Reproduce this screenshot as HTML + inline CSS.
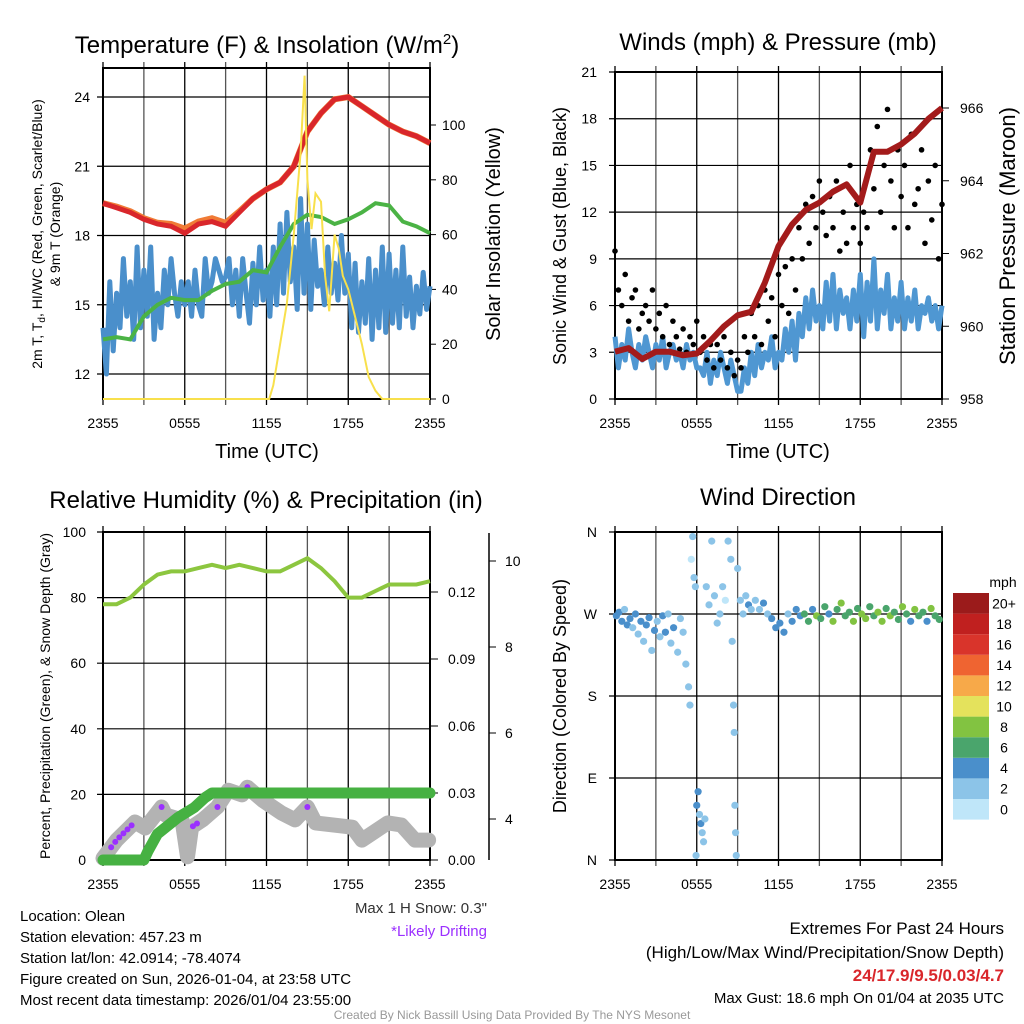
<!DOCTYPE html>
<html><head><meta charset="utf-8"><style>
html,body{margin:0;padding:0;background:#fff;}
svg{display:block;font-family:"Liberation Sans",Arial,sans-serif;}
</style></head><body>
<svg id="c" width="1024" height="1024" viewBox="0 0 1024 1024" xmlns="http://www.w3.org/2000/svg"></svg>
<script>
// ---------- DATA ----------
const hoursHourly = [0,1,2,3,4,5,6,7,8,9,10,11,12,13,14,15,16,17,18,19,20,21,22,23,24];
const xTickLabels = ["2355","0555","1155","1755","2355"];
const tempF = [19.4,19.2,19.0,18.7,18.5,18.4,18.1,18.5,18.6,18.4,19.0,19.6,20.0,20.3,21.0,22.5,23.3,23.9,24.0,23.6,23.2,22.8,22.5,22.3,22.0];
const temp9mF = [19.4,19.25,19.05,18.75,18.55,18.5,18.3,18.6,18.75,18.55,19.05,19.6,20.0,20.3,21.0,22.5,23.3,23.9,24.0,23.6,23.2,22.8,22.5,22.3,22.0];
const dewF = [13.5,13.6,13.5,14.5,15.0,15.3,15.2,15.2,15.6,15.9,16.0,16.5,16.4,17.5,18.5,18.9,18.8,18.5,18.7,19.0,19.4,19.3,18.6,18.4,18.1];
const windChillF = [14,12,16,13,15.5,14,17,14.5,16,13.5,17.5,14,16.5,
 14.5,17.5,13.5,15.5,14,16.5,15,17,15.5,14.5,16,15,
 16,14.5,16.5,15,14.5,17,15.5,16,17,16.5,16,16.2,
 17,15,16.5,14.5,17,15.5,14.2,16.8,15,17.5,15.2,16.5,
 14.5,17.5,15,18.5,15.5,19,16,17.5,14.8,19.6,15.5,18.5,
 14.8,17.8,15.8,16.5,15,17.5,15.5,16.8,15.2,18,15.5,17.2,
 14,16.8,13.8,16,14.2,17,13.5,16.5,14,17.5,13.8,17.2,
 14.2,16.5,14,17.5,14.5,16.2,14,15.8,14.6,16.4,14.8,15.8];
const solarHours = [0,12.2,12.5,13,13.5,14,14.5,14.8,15.0,15.3,15.6,16,16.3,16.6,17,17.3,17.6,18,18.5,19,19.5,20,20.5,24];
const solarWm2 = [0,0,5,20,35,60,90,118,80,62,75,72,45,32,60,55,45,40,30,20,8,3,0,0];
const windMph = [4,2,3.5,2.5,4.5,3,2,3.5,2.5,4,3,2,3.5,
 2.5,4,2,3,3.5,2.5,3,2,3.5,2.5,3,2,
 2,1.5,3,1,2.5,1.5,3,2,1,2.5,1.5,0.5,
 0.5,2,1,3,1.5,3.5,2,3,2.5,4,2,3,
 2.5,4.5,3,5,2.5,5.5,4,6.5,4.5,7,5,6,
 4.5,7.5,5,8,4.5,7,5.5,6.5,4.5,7,5,8,
 4,7.5,5,9,4.5,7,5.5,8,4.5,6.5,5,7.5,
 4.5,6.5,5,7,4.5,6,5.5,6.5,5,6,4.5,6];
const gustMph = [9.5,7,6,8,5,6.5,7,4.5,5.5,6,5,7,4.5,
 5.5,4,6,3.5,5,4,3.2,4.5,3,4,3.5,5,
 3,4,2.5,3.5,2,3.5,2.5,4,2,3,1.5,2.5,
 2,4,3,5.5,4,6,3.5,7,5,6.5,4,8,
 6,8.5,5.5,9,7,11,9,12.5,10,13,11,14,
 12,10.5,13,11,14,9.5,12,10,15,11,12.5,10,
 12,11,16,13.5,17.5,12,15,18.6,14,11,16,13,
 15,11,17,12.5,13.5,16,10,14,11.5,15,9,12.5];
const pressureMb = [959.3,959.4,959.1,959.3,959.3,959.2,959.25,959.6,960.0,960.3,960.4,961.2,962.2,962.8,963.2,963.4,963.7,963.9,963.4,964.8,964.8,965.0,965.3,965.7,966.0];
const rhPct = [78,78,80,84,87,88,88,89,90,89,90,89,88,88,90,92,89,85,80,80,82,84,84,84,85];
const precipHours = [0,3.0,3.3,4.0,5.5,6.7,7.5,8.0,24];
const precipIn = [0,0,0.004,0.0117,0.019,0.0235,0.028,0.03,0.03];
const snowHours = [0,1.0,2.35,3.1,4.3,4.6,5.8,6.2,6.5,7.3,8.4,9.2,10.2,10.6,11.7,13.1,14.1,15.0,15.6,18.3,19.0,20.9,21.9,22.9,23.9];
const snowDepthIn = [3.09,3.51,3.93,3.79,4.28,4.09,3.98,3.12,3.81,3.98,4.28,4.67,4.56,4.74,4.44,4.14,3.98,4.28,3.91,3.81,3.51,3.91,3.86,3.51,3.51];
const driftHours = [0.6,0.9,1.2,1.5,1.8,2.1,4.3,6.6,6.9,8.4,10.6,15.0];
const dirHours = [0.1,0.3,0.5,0.7,0.9,1.1,1.3,1.5,1.7,1.9,2.1,2.3,2.5,2.7,2.9,3.1,3.3,3.5,3.7,3.9,4.1,4.3,4.6,4.8,5.0,5.2,5.4,5.5,5.6,5.7,5.8,5.9,5.95,6.0,6.1,6.2,6.3,6.4,6.5,6.6,6.7,6.9,7.1,7.3,7.5,7.7,7.9,8.1,8.3,8.5,8.6,8.7,8.75,8.8,8.85,8.9,9.0,9.2,9.4,9.6,9.8,10.0,10.3,10.6,10.9,11.2,11.5,11.8,12.1,12.4,12.7,13.0,13.3,13.6,13.9,14.2,14.5,14.8,15.1,15.4,15.7,16.0,16.3,16.6,16.9,17.2,17.5,17.8,18.1,18.4,18.7,19.0,19.3,19.6,19.9,20.2,20.5,20.8,21.1,21.4,21.7,22.0,22.3,22.6,22.9,23.2,23.5,23.8];
const dirDeg = [268,272,262,275,258,265,255,270,248,262,240,258,266,230,252,262,245,268,250,270,238,255,228,265,250,215,190,170,330,355,310,300,5,60,75,50,40,30,20,45,300,280,350,290,260,270,300,285,350,330,240,170,140,60,30,5,320,285,270,290,280,275,285,275,282,270,265,255,260,250,270,262,275,268,270,262,275,268,265,278,270,262,275,282,268,272,262,276,270,265,278,268,272,262,276,268,272,264,278,270,262,275,268,272,262,276,268,264];
const dirSpeed = [4,3,4,2,3,4,2,3,1,3,2,4,3,2,4,2,1,3,4,2,1,3,2,1,2,1,1,1,0,1,1,2,1,3,3,2,3,2,2,2,1,2,1,1,2,1,1,0,1,1,1,1,1,2,2,2,1,2,1,2,3,2,2,2,3,2,3,4,3,4,2,3,4,4,5,6,4,7,5,6,4,7,6,8,6,5,7,6,8,7,6,5,7,8,6,7,5,6,8,6,4,7,5,6,4,7,5,6];
const speedBins = ["0","2","4","6","8","10","12","14","16","18","20+"];
const speedColors = ["#bfe6f9","#8cc4e8","#4a8fcb","#4aa56c","#82c341","#e4e25c","#f7a949","#ef6431","#d9342b","#c0201f","#9b1b1b"];

// ---------- HELPERS ----------
const svg = document.getElementById('c');
const NS = 'http://www.w3.org/2000/svg';
function mk(tag, attrs, parent){const e=document.createElementNS(NS,tag);for(const k in attrs)e.setAttribute(k,attrs[k]);(parent||svg).appendChild(e);return e;}
function txt(s,x,y,size,anchor,fill,rot){const e=mk('text',{x:x,y:y,'font-size':size,'text-anchor':anchor||'middle',fill:fill||'#000'});if(rot)e.setAttribute('transform','rotate('+rot+' '+x+' '+y+')');e.textContent=s;return e;}
function lin(d0,d1,r0,r1){return v=>r0+(v-d0)*(r1-r0)/(d1-d0);}
function pathFrom(xs,ys,fx,fy){return xs.map((x,i)=>(i?'L':'M')+fx(x).toFixed(1)+' '+fy(ys[i]).toFixed(1)).join(' ');}
function interp(xs,ys,x){for(let i=0;i<xs.length-1;i++){if(x<=xs[i+1]){const t=(x-xs[i])/(xs[i+1]-xs[i]);return ys[i]+(ys[i+1]-ys[i])*t;}}return ys[ys.length-1];}
const q15 = windChillF.map((_,i)=>i*0.25);

function panelFrame(x0,x1,y0,y1,yTicks,fy,name){
  const g=mk('g',{});
  
  
  for(let h=0;h<=24;h+=3){const x=x0+(x1-x0)*h/24;
    mk('line',{x1:x,x2:x,y1:y0-6,y2:y1+6,stroke:h%6?'#555':'#000','stroke-width':1.3},g);}
  yTicks.forEach(v=>{const y=fy(v);mk('line',{x1:x0-6,x2:x1,y1:y,y2:y,stroke:'#000','stroke-width':1.2},g);});
  const r=mk('rect',{x:x0,y:y0,width:x1-x0,height:y1-y0,fill:'none',stroke:'#000','stroke-width':2});
  
  
  xTickLabels.forEach((s,i)=>{const t=txt(s,x0+(x1-x0)*i/4,y1+29,14);
    
    });
}

// ---------- PANEL 1 ----------
(function(){
  const x0=103,x1=430,y0=68,y1=399;
  const fx=lin(0,24,x0,x1), fy=lin(12,24,374,97), fs=lin(0,100,399,125);
  panelFrame(x0,x1,y0,y1,[12,15,18,21,24],fy,'temperature-panel');
  [12,15,18,21,24].forEach(v=>{const t=txt(String(v),90,fy(v)+5,14,'end');
    
    });
  [0,20,40,60,80,100].forEach(v=>{mk('line',{x1:x1,x2:x1+6,y1:fs(v),y2:fs(v),stroke:'#000'});
    const t=txt(String(v),442,fs(v)+5,14,'start');
    
    });
  const p1=mk('path',{d:pathFrom(q15,windChillF,fx,fy),fill:'none',stroke:'#4a8fcb','stroke-width':5,'stroke-linejoin':'round'});
  
  
  const p2=mk('path',{d:pathFrom(hoursHourly,dewF,fx,fy),fill:'none',stroke:'#4bb345','stroke-width':4});
  
  
  const p3=mk('path',{d:pathFrom(hoursHourly,temp9mF,fx,fy),fill:'none',stroke:'#f07b35','stroke-width':6});
  
  
  const p4=mk('path',{d:pathFrom(hoursHourly,tempF,fx,fy),fill:'none',stroke:'#d9262b','stroke-width':5});
  
  
  const p5=mk('path',{d:pathFrom(solarHours,solarWm2,fx,fs),fill:'none',stroke:'#f8e04c','stroke-width':2});
  
  
  const t1=mk('text',{x:267,y:53,'font-size':24,'text-anchor':'middle'});
  t1.innerHTML='Temperature (F) &amp; Insolation (W/m<tspan dy="-9" font-size="15">2</tspan><tspan dy="9">)</tspan>';
  
  
  const a=txt('2m T, T',0,0,14,'middle','#000');
  a.setAttribute('transform','translate(42,234) rotate(-90)');
  a.innerHTML='2m T, T<tspan dy="3" font-size="10">d</tspan><tspan dy="-3">, HI/WC (Red, Green, Scarlet/Blue)</tspan>';
  
  
  const b=txt('& 9m T (Orange)',60,234,14,'middle','#000',-90);
  
  
  const c=txt('Solar Insolation (Yellow)',500,234,20,'middle','#000',-90);
  
  
  const d=txt('Time (UTC)',267,458,20);
  
  
})();

// ---------- PANEL 2 ----------
(function(){
  const x0=615,x1=942,y0=72,y1=399;
  const fx=lin(0,24,x0,x1), fy=lin(0,21,399,72), fp=lin(958,966,399,108);
  panelFrame(x0,x1,y0,y1,[0,3,6,9,12,15,18,21],fy,'winds-panel');
  [0,3,6,9,12,15,18,21].forEach(v=>{const t=txt(String(v),597,fy(v)+5,14,'end');
    
    });
  [958,960,962,964,966].forEach(v=>{mk('line',{x1:x1,x2:x1+7,y1:fp(v),y2:fp(v),stroke:'#000'});
    const t=txt(String(v),960,fp(v)+5,14,'start');
    
    });
  const p1=mk('path',{d:pathFrom(q15,windMph,fx,fy),fill:'none',stroke:'#4f97d2','stroke-width':5,'stroke-linejoin':'round'});
  
  
  gustMph.forEach((v,i)=>{const c=mk('circle',{cx:fx(q15[i]),cy:fy(v),r:2.8,fill:'#000'});
    
    });
  const p2=mk('path',{d:pathFrom(hoursHourly,pressureMb,fx,fp),fill:'none',stroke:'#a31b1b','stroke-width':6,'stroke-linejoin':'round'});
  
  
  const t=txt('Winds (mph) & Pressure (mb)',778,50,24);
  
  
  const a=txt('Sonic Wind & Gust (Blue, Black)',566,236,18,'middle','#000',-90);
  
  
  const b=txt('Station Pressure (Maroon)',1015,236,22,'middle','#000',-90);
  
  
  const d=txt('Time (UTC)',778,458,20);
  
  
})();

// ---------- PANEL 3 ----------
(function(){
  const x0=103,x1=430,y0=532,y1=860;
  const fx=lin(0,24,x0,x1), fy=lin(0,100,860,532), fpr=lin(0,0.03,860,793), fsn=lin(4,10,819,561);
  panelFrame(x0,x1,y0,y1,[0,20,40,60,80,100],fy,'humidity-panel');
  [0,20,40,60,80,100].forEach(v=>{const t=txt(String(v),86,fy(v)+5,14,'end');
    
    });
  [0,0.03,0.06,0.09,0.12].forEach(v=>{mk('line',{x1:x1,x2:x1+8,y1:fpr(v),y2:fpr(v),stroke:'#000'});
    const t=txt(v.toFixed(2),448,fpr(v)+5,14,'start');
    
    });
  const ax=mk('line',{x1:489,x2:489,y1:533,y2:860,stroke:'#000','stroke-width':1.5});
  
  
  [4,6,8,10].forEach(v=>{mk('line',{x1:489,x2:496,y1:fsn(v),y2:fsn(v),stroke:'#000'});
    const t=txt(String(v),505,fsn(v)+5,14,'start');
    
    });
  const p0=mk('path',{d:pathFrom(snowHours,snowDepthIn,fx,fsn),fill:'none',stroke:'#b3b3b3','stroke-width':15,'stroke-linecap':'round','stroke-linejoin':'round'});
  
  
  driftHours.forEach(h=>{const c=mk('circle',{cx:fx(h),cy:fsn(interp(snowHours,snowDepthIn,h)),r:3,fill:'#9b30ff'});
    
    });
  const p1=mk('path',{d:pathFrom(precipHours,precipIn,fx,fpr),fill:'none',stroke:'#46b142','stroke-width':11,'stroke-linecap':'round','stroke-linejoin':'round'});
  
  
  const p2=mk('path',{d:pathFrom(hoursHourly,rhPct,fx,fy),fill:'none',stroke:'#8cc63f','stroke-width':4});
  
  
  const t=txt('Relative Humidity (%) & Precipitation (in)',266,508,24);
  
  
  const a=txt('Percent, Precipitation (Green), & Snow Depth (Gray)',50,696,14,'middle','#000',-90);
  
  
})();

// ---------- PANEL 4 ----------
(function(){
  const x0=615,x1=942,y0=532,y1=860;
  const fx=lin(0,24,x0,x1), fy=lin(0,360,860,532);
  panelFrame(x0,x1,y0,y1,[0,90,180,270,360],fy,'wind-direction-panel');
  [['N',0],['E',90],['S',180],['W',270],['N',360]].forEach(p=>{const t=txt(p[0],597,fy(p[1])+5,14,'end');
    
    });
  dirHours.forEach((h,i)=>{const ci=Math.min(10,Math.floor(dirSpeed[i]/2+0.5));
    const c=mk('circle',{cx:fx(h),cy:fy(dirDeg[i]),r:3.6,fill:speedColors[ci]});
    
    });
  const t=txt('Wind Direction',778,505,24);
  
  
  const a=txt('Direction (Colored By Speed)',566,696,18,'middle','#000',-90);
  
  
  const u=txt('mph',1003,587,14);
  
  
  const bh=20.6;
  speedBins.forEach((s,i)=>{const y=593+(10-i)*bh;
    const r=mk('rect',{x:953,y:y,width:36,height:bh,fill:speedColors[i]});
    
    
    const t2=txt(s,1004,y+bh/2+5,14);
    
    });
})();

// ---------- FOOTER TEXT ----------
(function(){
  const left=['Location: Olean','Station elevation: 457.23 m','Station lat/lon: 42.0914; -78.4074','Figure created on Sun, 2026-01-04, at 23:58 UTC','Most recent data timestamp: 2026/01/04 23:55:00'];
  left.forEach((s,i)=>{const t=txt(s,20,921+i*21,15,'start');
    
    });
  const s1=txt('Max 1 H Snow: 0.3"',487,913,15,'end','#333');
  
  
  const s2=txt('*Likely Drifting',487,936,15,'end','#9b30ff');
  
  
  const r1=txt('Extremes For Past 24 Hours',1004,934,17,'end');
  
  
  const r2=txt('(High/Low/Max Wind/Precipitation/Snow Depth)',1004,958,17,'end');
  
  
  const r3=txt('24/17.9/9.5/0.03/4.7',1004,981,17,'end','#d9262b');
  r3.setAttribute('font-weight','bold');
  
  
  const r4=txt('Max Gust: 18.6 mph On 01/04 at 2035 UTC',1004,1003,15,'end');
  
  
  const cr=txt('Created By Nick Bassill Using Data Provided By The NYS Mesonet',512,1019,12,'middle','#999');
  
  
})();
</script>
</body></html>
